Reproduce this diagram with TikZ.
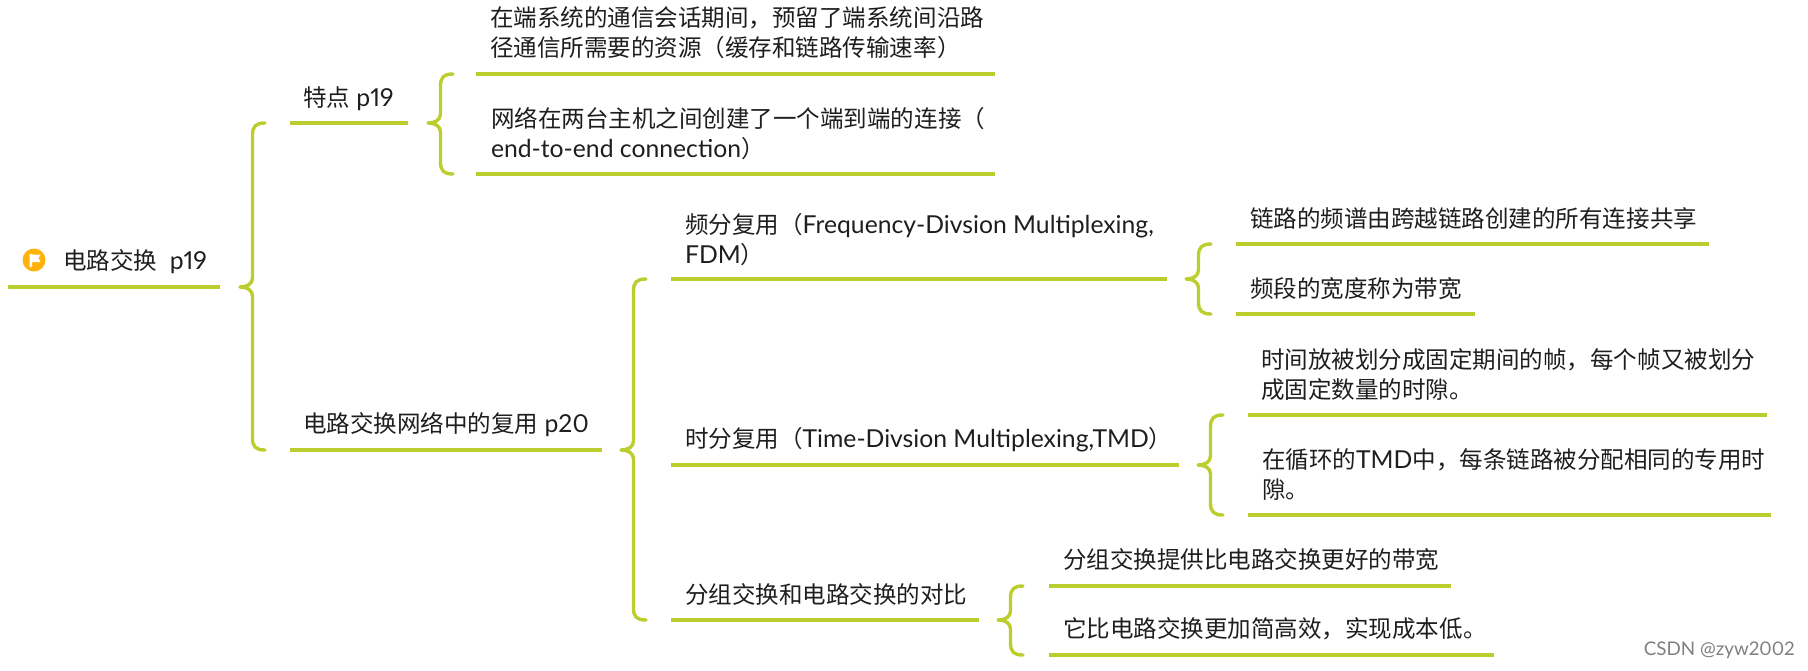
\documentclass[tikz,border=0pt]{standalone}
\usepackage{fontspec}
\setmainfont{Lato}[Scale=1.075,Numbers=Proportional]
\newfontfamily\cjkf{Noto Sans CJK SC}[Scale=1.023]
\newcommand{\C}[1]{{\cjkf #1}}
\definecolor{lime}{HTML}{BCCE2F}
\definecolor{ink}{HTML}{1E1E1E}
\definecolor{flag}{HTML}{FFB30A}
\tikzset{
  lbl/.style={anchor=west,inner sep=0pt,outer sep=0pt,align=left,text=ink,yshift=-0.5pt,font=\fontsize{23}{30}\selectfont},
  rulel/.style={draw=lime,line width=3.4pt},
  bracel/.style={draw=lime,line width=3.4pt,line cap=round,line join=round}
}
% name, tip x, top y, mid y, bottom y
\newcommand{\brc}[5]{%
  \coordinate (#1t) at (#2+25,#3);
  \coordinate (#1m) at (#2,#4);
  \coordinate (#1b) at (#2+25,#5);
  \draw[bracel] (#1t) .. controls (#2+16,#3) and (#2+12.5,#3+3) .. (#2+12.5,#3+12)
    -- (#2+12.5,#4-9) .. controls (#2+12.5,#4-3) and (#2+7,#4) .. (#1m)
    .. controls (#2+7,#4) and (#2+12.5,#4+3) .. (#2+12.5,#4+9)
    -- (#2+12.5,#5-12) .. controls (#2+12.5,#5-3) and (#2+16,#5) .. (#1b);
}
% name, x1, x2, y
\newcommand{\rl}[4]{%
  \coordinate (#1a) at (#2,#4);
  \coordinate (#1z) at (#3,#4);
  \draw[rulel] (#1a) -- (#1z);
}
\begin{document}
\begin{tikzpicture}[x=1pt,y=-1pt]
\useasboundingbox (0,0) rectangle (1808,670);
% root
\node[circle,fill=flag,minimum size=23pt,inner sep=0pt] (flagicon) at (34,260) {};
\fill[white] (29.5,254) rectangle (32,267) (32,254.5) -- (40.5,254.5) -- (38.5,258) -- (40.5,262) -- (32,262) -- cycle;
\node[lbl] (root) at (63,261) {\C{电路交换}\ \ p19};
\rl{rroot}{8}{220}{287}
\brc{ba}{240}{123}{287}{450}
% level 1
\node[lbl] (feat) at (303,98) {\C{特点} p19};
\rl{rfeat}{290}{408}{123}
\node[lbl] (mux) at (303,424) {\C{电路交换网络中的复用} p20};
\rl{rmux}{290}{602}{450}
\brc{bb}{428}{74}{123}{174}
\node[lbl] (fa) at (490,32) {\C{在端系统的通信会话期间，预留了端系统间沿路}\\\C{径通信所需要的资源（缓存和链路传输速率）}};
\rl{rfa}{476}{995}{74}
\node[lbl] (fb) at (491,133) {\C{网络在两台主机之间创建了一个端到端的连接（}\\end-to-end connection\C{）}};
\rl{rfb}{476}{995}{174}
\brc{bc}{621}{279}{450}{620}
% level 2
\node[lbl] (fdm) at (685,239) {\C{频分复用（}Frequency-Divsion Multiplexing,\\FDM\C{）}};
\rl{rfdm}{671}{1167}{279}
\node[lbl] (tdm) at (685,439) {\C{时分复用（}Time-Divsion Multiplexing,TMD\C{）}};
\rl{rtdm}{671}{1179}{465}
\node[lbl] (cmp) at (685,594) {\C{分组交换和电路交换的对比}};
\rl{rcmp}{671}{979}{620}
% FDM
\brc{bd}{1186}{244}{279}{314}
\node[lbl] (fdma) at (1250,218) {\C{链路的频谱由跨越链路创建的所有连接共享}};
\rl{rfdma}{1236}{1709}{244}
\node[lbl] (fdmb) at (1250,288) {\C{频段的宽度称为带宽}};
\rl{rfdmb}{1236}{1475}{314}
% TDM
\brc{be}{1198}{415}{465}{515}
\node[lbl] (tdma) at (1261,374) {\C{时间放被划分成固定期间的帧，每个帧又被划分}\\\C{成固定数量的时隙。}};
\rl{rtdma}{1248}{1767}{415}
\node[lbl] (tdmb) at (1262,474) {\C{在循环的}TMD\C{中，每条链路被分配相同的专用时}\\\C{隙。}};
\rl{rtdmb}{1248}{1771}{515}
% compare
\brc{bf}{998}{586}{620}{655}
\node[lbl] (cmpa) at (1063,559) {\C{分组交换提供比电路交换更好的带宽}};
\rl{rcmpa}{1049}{1451}{586}
\node[lbl] (cmpb) at (1063,628) {\C{它比电路交换更加简高效，实现成本低。}};
\rl{rcmpb}{1049}{1494}{655}
\node[anchor=east,inner sep=0pt,text=black!50,font=\fontsize{17.5}{20}\selectfont] (wm) at (1795,650) {CSDN @zyw2002};
\end{tikzpicture}
\end{document}
